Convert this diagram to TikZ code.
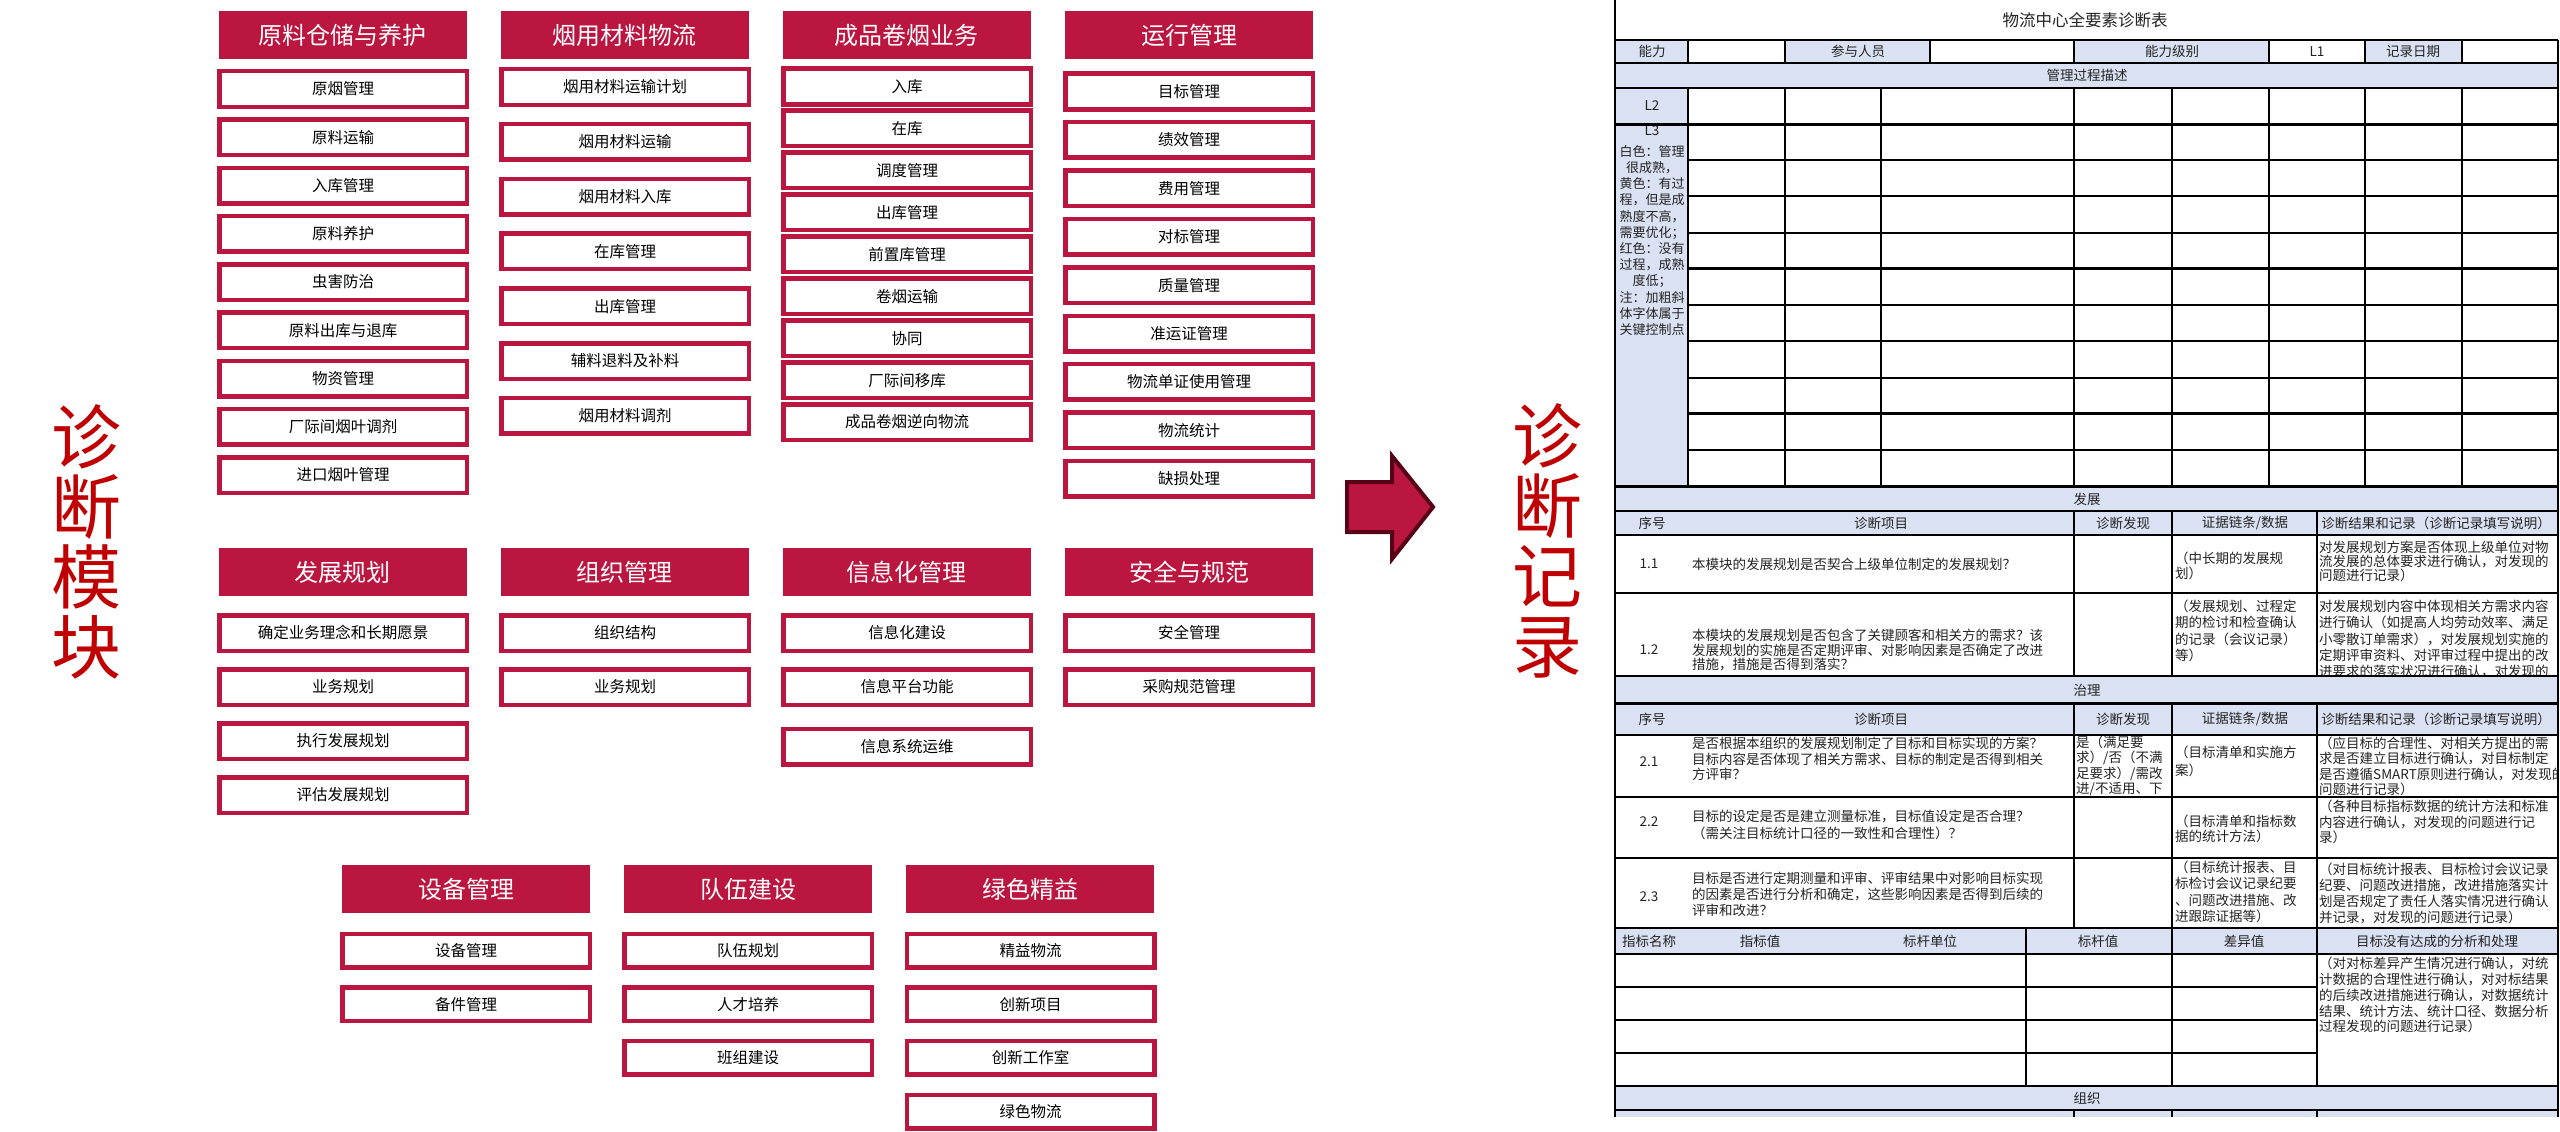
\documentclass[tikz,border=0pt]{standalone}
\usepackage{fontspec}
\setmainfont{Noto Sans CJK SC}
\newfontfamily\cjk{Noto Sans CJK SC}
\newfontfamily\tabf{Noto Sans CJK SC}
\definecolor{crim}{RGB}{186,22,64}
\definecolor{bigred}{RGB}{192,0,0}
\definecolor{arrdark}{RGB}{88,0,22}
\definecolor{xlblue}{RGB}{217,225,242}
\definecolor{celltxt}{RGB}{35,35,35}
\tikzset{
  hdr/.style={fill=crim,text=white,minimum width=248pt,minimum height=48pt,inner sep=0pt,font=\cjk\fontsize{24}{24}\selectfont},
  itm/.style={draw=crim,line width=4.5pt,fill=white,minimum width=247.5pt,minimum height=35.5pt,inner sep=0pt,text=black,font=\cjk\fontsize{15.5}{15.5}\selectfont},
  itms/.style={itm,minimum height=33.5pt},
  bigtxt/.style={text=bigred,inner sep=0pt,align=center,font=\cjk\fontsize{70}{70}\selectfont},
  bigarrow/.style={fill=crim,draw=arrdark,line width=4pt,line join=miter},
  band/.style={fill=xlblue},
  gline/.style={draw=black,line width=1.2pt},
  gthick/.style={draw=black,line width=3pt},
  tc/.style={inner sep=0pt,text=celltxt,font=\tabf\fontsize{13.5}{15.5}\selectfont},
  tw/.style={tc,anchor=west,align=left},
  tnw/.style={tc,anchor=north west,align=left},
  lsp/.style={font=\tabf\fontsize{13.5}{#1}\selectfont},
}
\begin{document}
\begin{tikzpicture}[x=1pt,y=-1pt]
\useasboundingbox (0,0) rectangle (2560,1132);

% ---------- big labels ----------
\node[bigtxt] (diagmod) at (86,542) {诊\\断\\模\\块};
\node[bigtxt] (diagrec) at (1547,541) {诊\\断\\记\\录};

% ---------- arrow ----------
\path[bigarrow] (1347,482) -- (1392,482) -- (1392,456) -- (1433,507) -- (1392,559) -- (1392,532) -- (1347,532) -- cycle;

% ---------- row 1 headers ----------
\node[hdr] (h1) at (342.5,35) {原料仓储与养护};
\node[hdr] (h2) at (624.5,35) {烟用材料物流};
\node[hdr] (h3) at (906.5,35) {成品卷烟业务};
\node[hdr] (h4) at (1189,35) {运行管理};

\foreach \t [count=\i] in {原烟管理,原料运输,入库管理,原料养护,虫害防治,原料出库与退库,物资管理,厂际间烟叶调剂,进口烟叶管理}
  \node[itm] (a\i) at (343,{89+48.25*(\i-1)}) {\t};
\foreach \t [count=\i] in {烟用材料运输计划,烟用材料运输,烟用材料入库,在库管理,出库管理,辅料退料及补料,烟用材料调剂}
  \node[itm] (b\i) at (625,{87+54.8*(\i-1)}) {\t};
\foreach \t [count=\i] in {入库,在库,调度管理,出库管理,前置库管理,卷烟运输,协同,厂际间移库,成品卷烟逆向物流}
  \node[itm] (c\i) at (907,{86.5+41.95*(\i-1)}) {\t};
\foreach \t [count=\i] in {目标管理,绩效管理,费用管理,对标管理,质量管理,准运证管理,物流单证使用管理,物流统计,缺损处理}
  \node[itm] (d\i) at (1189,{91.5+48.4*(\i-1)}) {\t};

% ---------- row 2 ----------
\node[hdr] (h5) at (342.5,572) {发展规划};
\node[hdr] (h6) at (624.5,572) {组织管理};
\node[hdr] (h7) at (906.5,572) {信息化管理};
\node[hdr] (h8) at (1189,572) {安全与规范};

\foreach \t [count=\i] in {确定业务理念和长期愿景,业务规划,执行发展规划,评估发展规划}
  \node[itm] (e\i) at (343,{633+54*(\i-1)}) {\t};
\foreach \t [count=\i] in {组织结构,业务规划}
  \node[itm] (f\i) at (625,{633+54*(\i-1)}) {\t};
\node[itm] (g1) at (907,633) {信息化建设};
\node[itm] (g2) at (907,687) {信息平台功能};
\node[itm] (g3) at (907,746.5) {信息系统运维};
\foreach \t [count=\i] in {安全管理,采购规范管理}
  \node[itm] (k\i) at (1189,{633+54*(\i-1)}) {\t};

% ---------- row 3 ----------
\node[hdr] (h9) at (466,889) {设备管理};
\node[hdr] (h10) at (748,889) {队伍建设};
\node[hdr] (h11) at (1030,889) {绿色精益};

\foreach \t [count=\i] in {设备管理,备件管理}
  \node[itms] (m\i) at (466,{950.5+53.7*(\i-1)}) {\t};
\foreach \t [count=\i] in {队伍规划,人才培养,班组建设}
  \node[itms] (n\i) at (748,{950.5+53.7*(\i-1)}) {\t};
\foreach \t [count=\i] in {精益物流,创新项目,创新工作室,绿色物流}
  \node[itms] (p\i) at (1030.5,{950.5+53.7*(\i-1)}) {\t};

% ================= spreadsheet =================
% fills
\fill[band] (1615,40) rectangle (1688,63);
\fill[band] (1785,40) rectangle (1930,63);
\fill[band] (2074,40) rectangle (2269,63);
\fill[band] (2365,40) rectangle (2462,63);
\fill[band] (1615,63) rectangle (2558,88);
\fill[band] (1615,88) rectangle (1688,486);
\fill[band] (1615,486) rectangle (2558,535);
\fill[band] (1615,676) rectangle (2558,735);
\fill[band] (1615,928) rectangle (2558,954);
\fill[band] (1615,1086) rectangle (2558,1117);

% title and top rows
\node[tc,font=\tabf\fontsize{16.5}{16.5}\selectfont] (ttl) at (2085,20) {物流中心全要素诊断表};
\node[tc] (t1) at (1652,51.5) {能力};
\node[tc] (t2) at (1858,51.5) {参与人员};
\node[tc] (t3) at (2172,51.5) {能力级别};
\node[tc] (t4) at (2317,51.5) {L1};
\node[tc] (t5) at (2413,51.5) {记录日期};
\node[tc] (t6) at (2087,75.5) {管理过程描述};
\node[tc] (lv2) at (1652,106) {L2};
\node[tc] (lv3) at (1652,131) {L3};
\node[tc,align=center,font=\tabf\fontsize{13}{16.2}\selectfont] (lv3t) at (1652,240.5)
  {白色：管理\\很成熟，\\黄色：有过\\程，但是成\\熟度不高，\\需要优化；\\红色：没有\\过程，成熟\\度低；\\注：加粗斜\\体字体属于\\关键控制点};

% section 发展
\node[tc] (s1) at (2087,499) {发展};
\node[tc] (s1a) at (1652,523) {序号};
\node[tc] (s1b) at (1881,523) {诊断项目};
\node[tc] (s1c) at (2123,523) {诊断发现};
\node[tc] (s1d) at (2245,523) {证据链条/数据};
\node[tc] (s1e) at (2436,523) {诊断结果和记录（诊断记录填写说明）};

\node[tc] (r11n) at (1649,564) {1.1};
\node[tw] (r11i) at (1692,564) {本模块的发展规划是否契合上级单位制定的发展规划？};
\node[tw,lsp=14.5] (r11e) at (2175,566) {（中长期的发展规\\划）};
\node[tw,lsp=14] (r11r) at (2319,561) {对发展规划方案是否体现上级单位对物\\流发展的总体要求进行确认，对发现的\\问题进行记录）};

\node[tc] (r12n) at (1649,650) {1.2};
\node[tw,lsp=14.5] (r12i) at (1692,650) {本模块的发展规划是否包含了关键顾客和相关方的需求？该\\发展规划的实施是否定期评审、对影响因素是否确定了改进\\措施，措施是否得到落实？};
\node[tw,lsp=16.3] (r12e) at (2175,631) {（发展规划、过程定\\期的检讨和检查确认\\的记录（会议记录）\\等）};
\begin{scope}
\clip (2317,593) rectangle (2558,676);
\node[tw,lsp=16.3] (r12r) at (2319,639.2) {对发展规划内容中体现相关方需求内容\\进行确认（如提高人均劳动效率、满足\\小零散订单需求），对发展规划实施的\\定期评审资料、对评审过程中提出的改\\进要求的落实状况进行确认，对发现的};
\end{scope}

% section 治理
\node[tc] (s2) at (2087,690) {治理};
\node[tc] (s2a) at (1652,719) {序号};
\node[tc] (s2b) at (1881,719) {诊断项目};
\node[tc] (s2c) at (2123,719) {诊断发现};
\node[tc] (s2d) at (2245,719) {证据链条/数据};
\node[tc] (s2e) at (2436,719) {诊断结果和记录（诊断记录填写说明）};

\node[tc] (r21n) at (1649,762) {2.1};
\node[tw] (r21i) at (1692,759) {是否根据本组织的发展规划制定了目标和目标实现的方案？\\目标内容是否体现了相关方需求、目标的制定是否得到相关\\方评审？};
\begin{scope}
\clip (2074,735) rectangle (2172,797);
\node[tw] (r21f) at (2076,766) {是（满足要\\求）/否（不满\\足要求）/需改\\进/不适用、下};
\end{scope}
\node[tw,lsp=18] (r21e) at (2175,761) {（目标清单和实施方\\案）};
\begin{scope}
\clip (2317,735) rectangle (2558,797);
\node[tw] (r21r) at (2319,766.5) {（应目标的合理性、对相关方提出的需\\求是否建立目标进行确认，对目标制定\\是否遵循SMART原则进行确认，对发现的\\问题进行记录）};
\end{scope}

\node[tc] (r22n) at (1649,822) {2.2};
\node[tw,lsp=17] (r22i) at (1692,825) {目标的设定是否是建立测量标准，目标值设定是否合理？\\（需关注目标统计口径的一致性和合理性）？};
\node[tw] (r22e) at (2175,829) {（目标清单和指标数\\据的统计方法）};
\node[tw] (r22r) at (2319,822) {（各种目标指标数据的统计方法和标准\\内容进行确认，对发现的问题进行记\\录）};

\node[tc] (r23n) at (1649,897) {2.3};
\node[tw,lsp=16] (r23i) at (1692,894) {目标是否进行定期测量和评审、评审结果中对影响目标实现\\的因素是否进行分析和确定，这些影响因素是否得到后续的\\评审和改进？};
\node[tw,lsp=16.5] (r23e) at (2175,892) {（目标统计报表、目\\标检讨会议记录纪要\\、问题改进措施、改\\进跟踪证据等）};
\node[tw,lsp=16] (r23r) at (2319,893) {（对目标统计报表、目标检讨会议记录\\纪要、问题改进措施，改进措施落实计\\划是否规定了责任人落实情况进行确认\\并记录，对发现的问题进行记录）};

% indicators
\node[tc] (q1) at (1649,941) {指标名称};
\node[tc] (q2) at (1760,941) {指标值};
\node[tc] (q3) at (1930,941) {标杆单位};
\node[tc] (q4) at (2098,941) {标杆值};
\node[tc] (q5) at (2244,941) {差异值};
\node[tc] (q6) at (2437,941) {目标没有达成的分析和处理};
\node[tnw,lsp=15.8] (qr) at (2319,957) {（对对标差异产生情况进行确认，对统\\计数据的合理性进行确认，对对标结果\\的后续改进措施进行确认，对数据统计\\结果、统计方法、统计口径、数据分析\\过程发现的问题进行记录）};

\node[tc] (s3) at (2087,1098) {组织};

% grid lines
\draw[gline] (1615,0) -- (1615,1117);
\draw[gline] (2558,40) -- (2558,1117);
\draw[gline] (1615,40) -- (2558,40);
\draw[gline] (1615,63) -- (2558,63);
\foreach \x in {1688,1785,1930,2074,2269,2365,2462} \draw[gline] (\x,40) -- (\x,63);
\draw[gline] (1615,88) -- (2558,88);
\foreach \x in {1688,1785,1881,2074,2172,2269,2365,2462} \draw[gline] (\x,88) -- (\x,486);
\foreach \y in {160,196,233,305,341,378,450} \draw[gline] (1688,\y) -- (2558,\y);
\draw[gthick] (1615,124) -- (2558,124);
\foreach \y in {268,413} \draw[gthick] (1688,\y) -- (2558,\y);
\draw[gthick] (1615,486) -- (2558,486);

\foreach \y in {511,535,593,676} \draw[gline] (1615,\y) -- (2558,\y);
\foreach \x in {2074,2172,2317} \draw[gline] (\x,511) -- (\x,676);

\draw[gthick] (1615,703) -- (2558,703);
\foreach \y in {735,797,858,928} \draw[gline] (1615,\y) -- (2558,\y);
\foreach \x in {2074,2172,2317} \draw[gline] (\x,703) -- (\x,928);

\draw[gline] (1615,954) -- (2558,954);
\foreach \y in {987,1020,1053} \draw[gline] (1615,\y) -- (2317,\y);
\draw[gline] (1615,1086) -- (2558,1086);
\foreach \x in {2026,2172,2317} \draw[gline] (\x,928) -- (\x,1086);
\draw[gline] (1615,1110) -- (2558,1110);
\foreach \x in {2074,2172,2317} \draw[gline] (\x,1110) -- (\x,1117);
\end{tikzpicture}
\end{document}
